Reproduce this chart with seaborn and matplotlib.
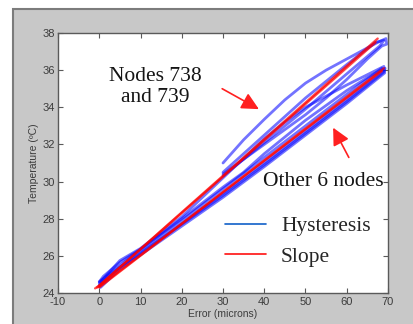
import pandas as pd
import seaborn as sns
import matplotlib.pyplot as plt
from matplotlib.patches import Rectangle
from matplotlib.lines import Line2D

# hysteresis loops (blue)
node738_x = [30, 35, 40, 45, 50, 55, 60, 65, 68, 69.5, 69.7, 68.5, 65, 60, 55, 50, 45, 40, 35, 30]
node738_y = [31.0, 32.25, 33.35, 34.4, 35.3, 36.0, 36.6, 37.2, 37.55, 37.7, 37.4, 37.3, 36.6, 35.5, 34.5, 33.6, 32.8, 32.0, 31.2, 30.4]
node739_x = [30, 40, 50, 60, 67, 69, 68, 60, 50, 40, 30]
node739_y = [30.5, 32.5, 34.5, 36.3, 37.5, 37.6, 37.3, 35.8, 33.9, 32.1, 30.3]
other_a_x = [0, 2, 5, 10, 20, 30, 40, 50, 60, 69, 69.3, 65, 60, 55, 50, 45, 40, 35, 30, 20, 10, 5, 1, 0]
other_a_y = [24.4, 24.9, 25.4, 26.15, 27.7, 29.25, 30.9, 32.6, 34.3, 35.9, 36.1, 35.6, 34.9, 34.1, 33.3, 32.4, 31.5, 30.5, 29.7, 28.0, 26.35, 25.65, 24.9, 24.6]
other_b_x = [0.3, 5, 10, 20, 30, 40, 50, 60, 69.2, 69, 60, 50, 45, 40, 30, 20, 10, 5, 0.3]
other_b_y = [24.3, 25.3, 26.05, 27.6, 29.15, 30.8, 32.5, 34.2, 35.85, 36.2, 35.2, 34.0, 33.2, 32.3, 30.2, 28.1, 26.4, 25.75, 24.6]
other_c_x = [0, 10, 20, 30, 40, 50, 60, 68.8, 68.5, 60, 50, 40, 30, 20, 10, 0]
other_c_y = [24.5, 26.2, 27.75, 29.35, 31.0, 32.7, 34.4, 35.95, 36.1, 34.7, 33.0, 31.3, 29.6, 27.9, 26.35, 24.6]

# slope lines (red)
slope738_x = [-1, 0, 67.5]
slope738_y = [24.25, 24.4, 37.7]
slope739_x = [-0.5, 67]
slope739_y = [24.3, 37.5]
slope_other_a_x = [0, 69]
slope_other_a_y = [24.3, 36.1]
slope_other_b_x = [0, 68.5]
slope_other_b_y = [24.35, 35.95]

curves = [
    ("node738", "Hysteresis", node738_x, node738_y),
    ("node739", "Hysteresis", node739_x, node739_y),
    ("other_a", "Hysteresis", other_a_x, other_a_y),
    ("other_b", "Hysteresis", other_b_x, other_b_y),
    ("other_c", "Hysteresis", other_c_x, other_c_y),
    ("s738", "Slope", slope738_x, slope738_y),
    ("s739", "Slope", slope739_x, slope739_y),
    ("s_oa", "Slope", slope_other_a_x, slope_other_a_y),
    ("s_ob", "Slope", slope_other_b_x, slope_other_b_y),
]
rows = []
for name, kind, xs, ys in curves:
    for i, (x, y) in enumerate(zip(xs, ys)):
        rows.append({"curve": name, "kind": kind, "order": i, "Error": x, "Temperature": y})
df = pd.DataFrame(rows)

sns.set_style("ticks")
plt.rcParams["font.family"] = ["Liberation Sans", "DejaVu Sans"]
plt.rcParams["axes.unicode_minus"] = False

fig = plt.figure(figsize=(4.14, 3.24), dpi=100)
fig.patch.set_facecolor("white")
fig.add_artist(Rectangle((13 / 414, -0.02), 1.0, 1.02 - 9 / 324, transform=fig.transFigure,
                         facecolor="#c8c8c8", edgecolor="#7c7c7c", lw=1.5, zorder=-10))

ax = fig.add_axes([58 / 414, 31 / 324, 330 / 414, 260 / 324])
ax.set_facecolor("white")

sns.lineplot(data=df[df["kind"] == "Hysteresis"], x="Error", y="Temperature", units="curve",
             estimator=None, sort=False, color="#0000ff", lw=2.0, alpha=0.55, ax=ax, legend=False)
sns.lineplot(data=df[df["kind"] == "Slope"], x="Error", y="Temperature", units="curve",
             estimator=None, sort=False, color="#ff0000", lw=1.7, alpha=0.7, ax=ax, legend=False)

ax.set_xlim(-10, 70)
ax.set_ylim(24, 38)
ax.set_xticks(range(-10, 71, 10))
ax.set_yticks(range(24, 39, 2))
ax.tick_params(direction="in", top=True, right=True, length=3.5, width=0.8,
               colors="#5a5a5a", labelcolor="#3c3c3c", labelsize=8, pad=2)
ax.tick_params(axis="x", pad=3)
for s in ax.spines.values():
    s.set_color("#5a5a5a")
    s.set_linewidth(1.0)
ax.set_xlabel("Error (microns)", fontsize=7.5, color="#3c3c3c", labelpad=1)
ax.set_ylabel("Temperature (ºC)", fontsize=7.5, color="#3c3c3c", labelpad=3)

serif = dict(family=["Liberation Serif", "DejaVu Serif"], fontsize=15.5, color="#151515")
ax.text(13.5, 35.1, "Nodes 738\nand 739", ha="center", va="center", linespacing=1.15, **serif)
ax.text(54.2, 30.0, "Other 6 nodes", ha="center", va="center", **serif)

arrow = dict(arrowstyle="-|>,head_length=0.8,head_width=0.4", color="#ff2020", lw=1.2,
             shrinkA=0, shrinkB=0, mutation_scale=13)
ax.annotate("", xy=(38.7, 33.9), xytext=(29.8, 35.0), arrowprops=arrow)
ax.annotate("", xy=(56.7, 32.9), xytext=(60.5, 31.3), arrowprops=arrow)

handles = [Line2D([], [], color="#1060c8", lw=1.2), Line2D([], [], color="#ff1010", lw=1.2)]
ax.legend(handles, ["Hysteresis", "Slope"], loc="center left", bbox_to_anchor=(0.506, 0.198),
          frameon=False, borderpad=0, borderaxespad=0, handlelength=1.9, handletextpad=0.7,
          labelspacing=0.5, prop=dict(family="Liberation Serif", size=15.5))

fig.savefig("out.png", dpi=100)
